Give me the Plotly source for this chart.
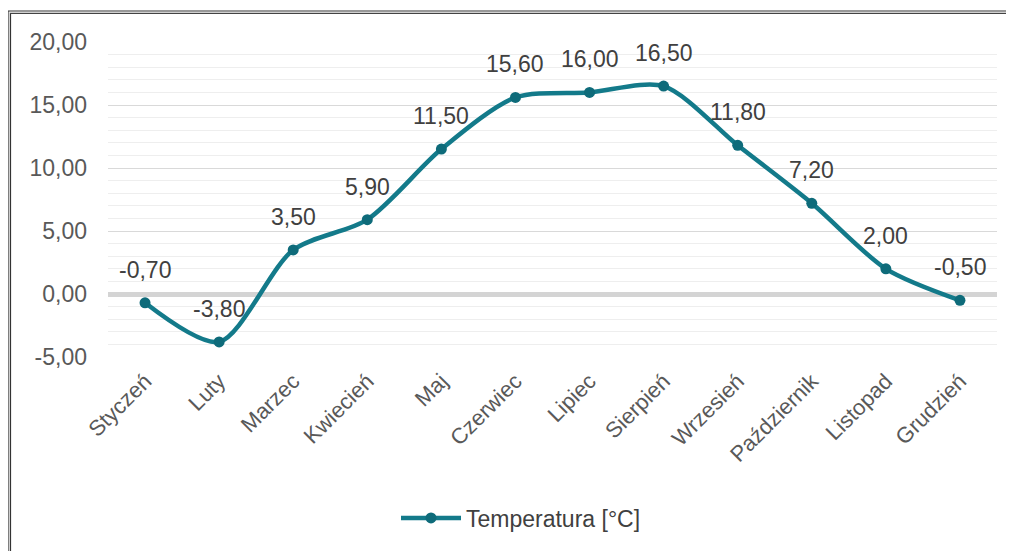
import plotly.graph_objects as go

months = ["Styczeń", "Luty", "Marzec", "Kwiecień", "Maj", "Czerwiec", "Lipiec",
          "Sierpień", "Wrzesień", "Październik", "Listopad", "Grudzień"]
temps = [-0.70, -3.80, 3.50, 5.90, 11.50, 15.60, 16.00, 16.50, 11.80, 7.20, 2.00, -0.50]
series_name = "Temperatura [°C]"
y_ticks = [-5, 0, 5, 10, 15, 20]

def fmt(v):
    return f"{v:.2f}".replace(".", ",")

# page has an 8px body margin; the figure is sized to fill the rest of the window
OFF = 8
W, H = 1014 - OFF, 551 - OFF
L, R, T, B = 100, 17, 34, 194
pw, ph = W - L - R, H - T - B
FONT = "Liberation Sans, Arial"

def px_x(p):  # page pixel -> paper coord
    return (p - OFF - L) / pw

def px_y(p):
    return (H - B - (p - OFF)) / ph

fig = go.Figure()
fig.add_trace(go.Scatter(
    x=months, y=temps, mode="lines+markers", name=series_name,
    line=dict(color="#137A8A", width=4.5, shape="spline", smoothing=0.8),
    marker=dict(color="#0E6B7A", size=11),
))

for m, v in zip(months, temps):
    fig.add_annotation(x=m, y=v, text=fmt(v), showarrow=False, yshift=33,
                       font=dict(family=FONT, size=23, color="#404040"))

shapes = [
    dict(type="line", xref="paper", yref="paper", x0=px_x(8.5), x1=px_x(8.5),
         y0=px_y(H + 30), y1=px_y(11), line=dict(color="#7f7f7f", width=1.5)),
    dict(type="line", xref="paper", yref="paper", x0=px_x(10.5), x1=px_x(10.5),
         y0=px_y(H + 30), y1=px_y(13), line=dict(color="#333333", width=1.2)),
    dict(type="line", xref="paper", yref="paper", x0=px_x(8), x1=px_x(W + 30),
         y0=px_y(11), y1=px_y(11), line=dict(color="#333333", width=1.2)),
    dict(type="line", xref="paper", yref="paper", x0=px_x(10), x1=px_x(W + 30),
         y0=px_y(13.3), y1=px_y(13.3), line=dict(color="#444444", width=1.2)),
]

fig.update_layout(
    width=W, height=H,
    margin=dict(l=L, r=R, t=T, b=B, pad=0, autoexpand=False),
    paper_bgcolor="white", plot_bgcolor="white",
    separators=", ",
    font=dict(family=FONT, size=23, color="#595959"),
    showlegend=True,
    legend=dict(orientation="h", x=px_x(521), xanchor="center", y=px_y(518), yanchor="middle",
                font=dict(size=23, color="#404040"), itemwidth=60),
    shapes=shapes,
    xaxis=dict(showgrid=False, showline=False, ticks="", tickangle=-45, automargin=False,
               range=[-0.5, len(months) - 0.5],
               tickfont=dict(size=22, color="#595959"), zeroline=False, ticklabelstandoff=6),
    yaxis=dict(range=[-5, 20], tickvals=y_ticks, ticktext=[fmt(v) for v in y_ticks],
               automargin=False,
               showgrid=True, gridcolor="#d9d9d9", gridwidth=1.2,
               zeroline=True, zerolinecolor="#d4d4d4", zerolinewidth=5,
               ticks="", showline=False, ticklabelstandoff=20,
               minor=dict(dtick=1, showgrid=True, gridcolor="#eeeeee", gridwidth=1),
               tickfont=dict(size=23, color="#595959")),
)

fig.write_html("out.html")
